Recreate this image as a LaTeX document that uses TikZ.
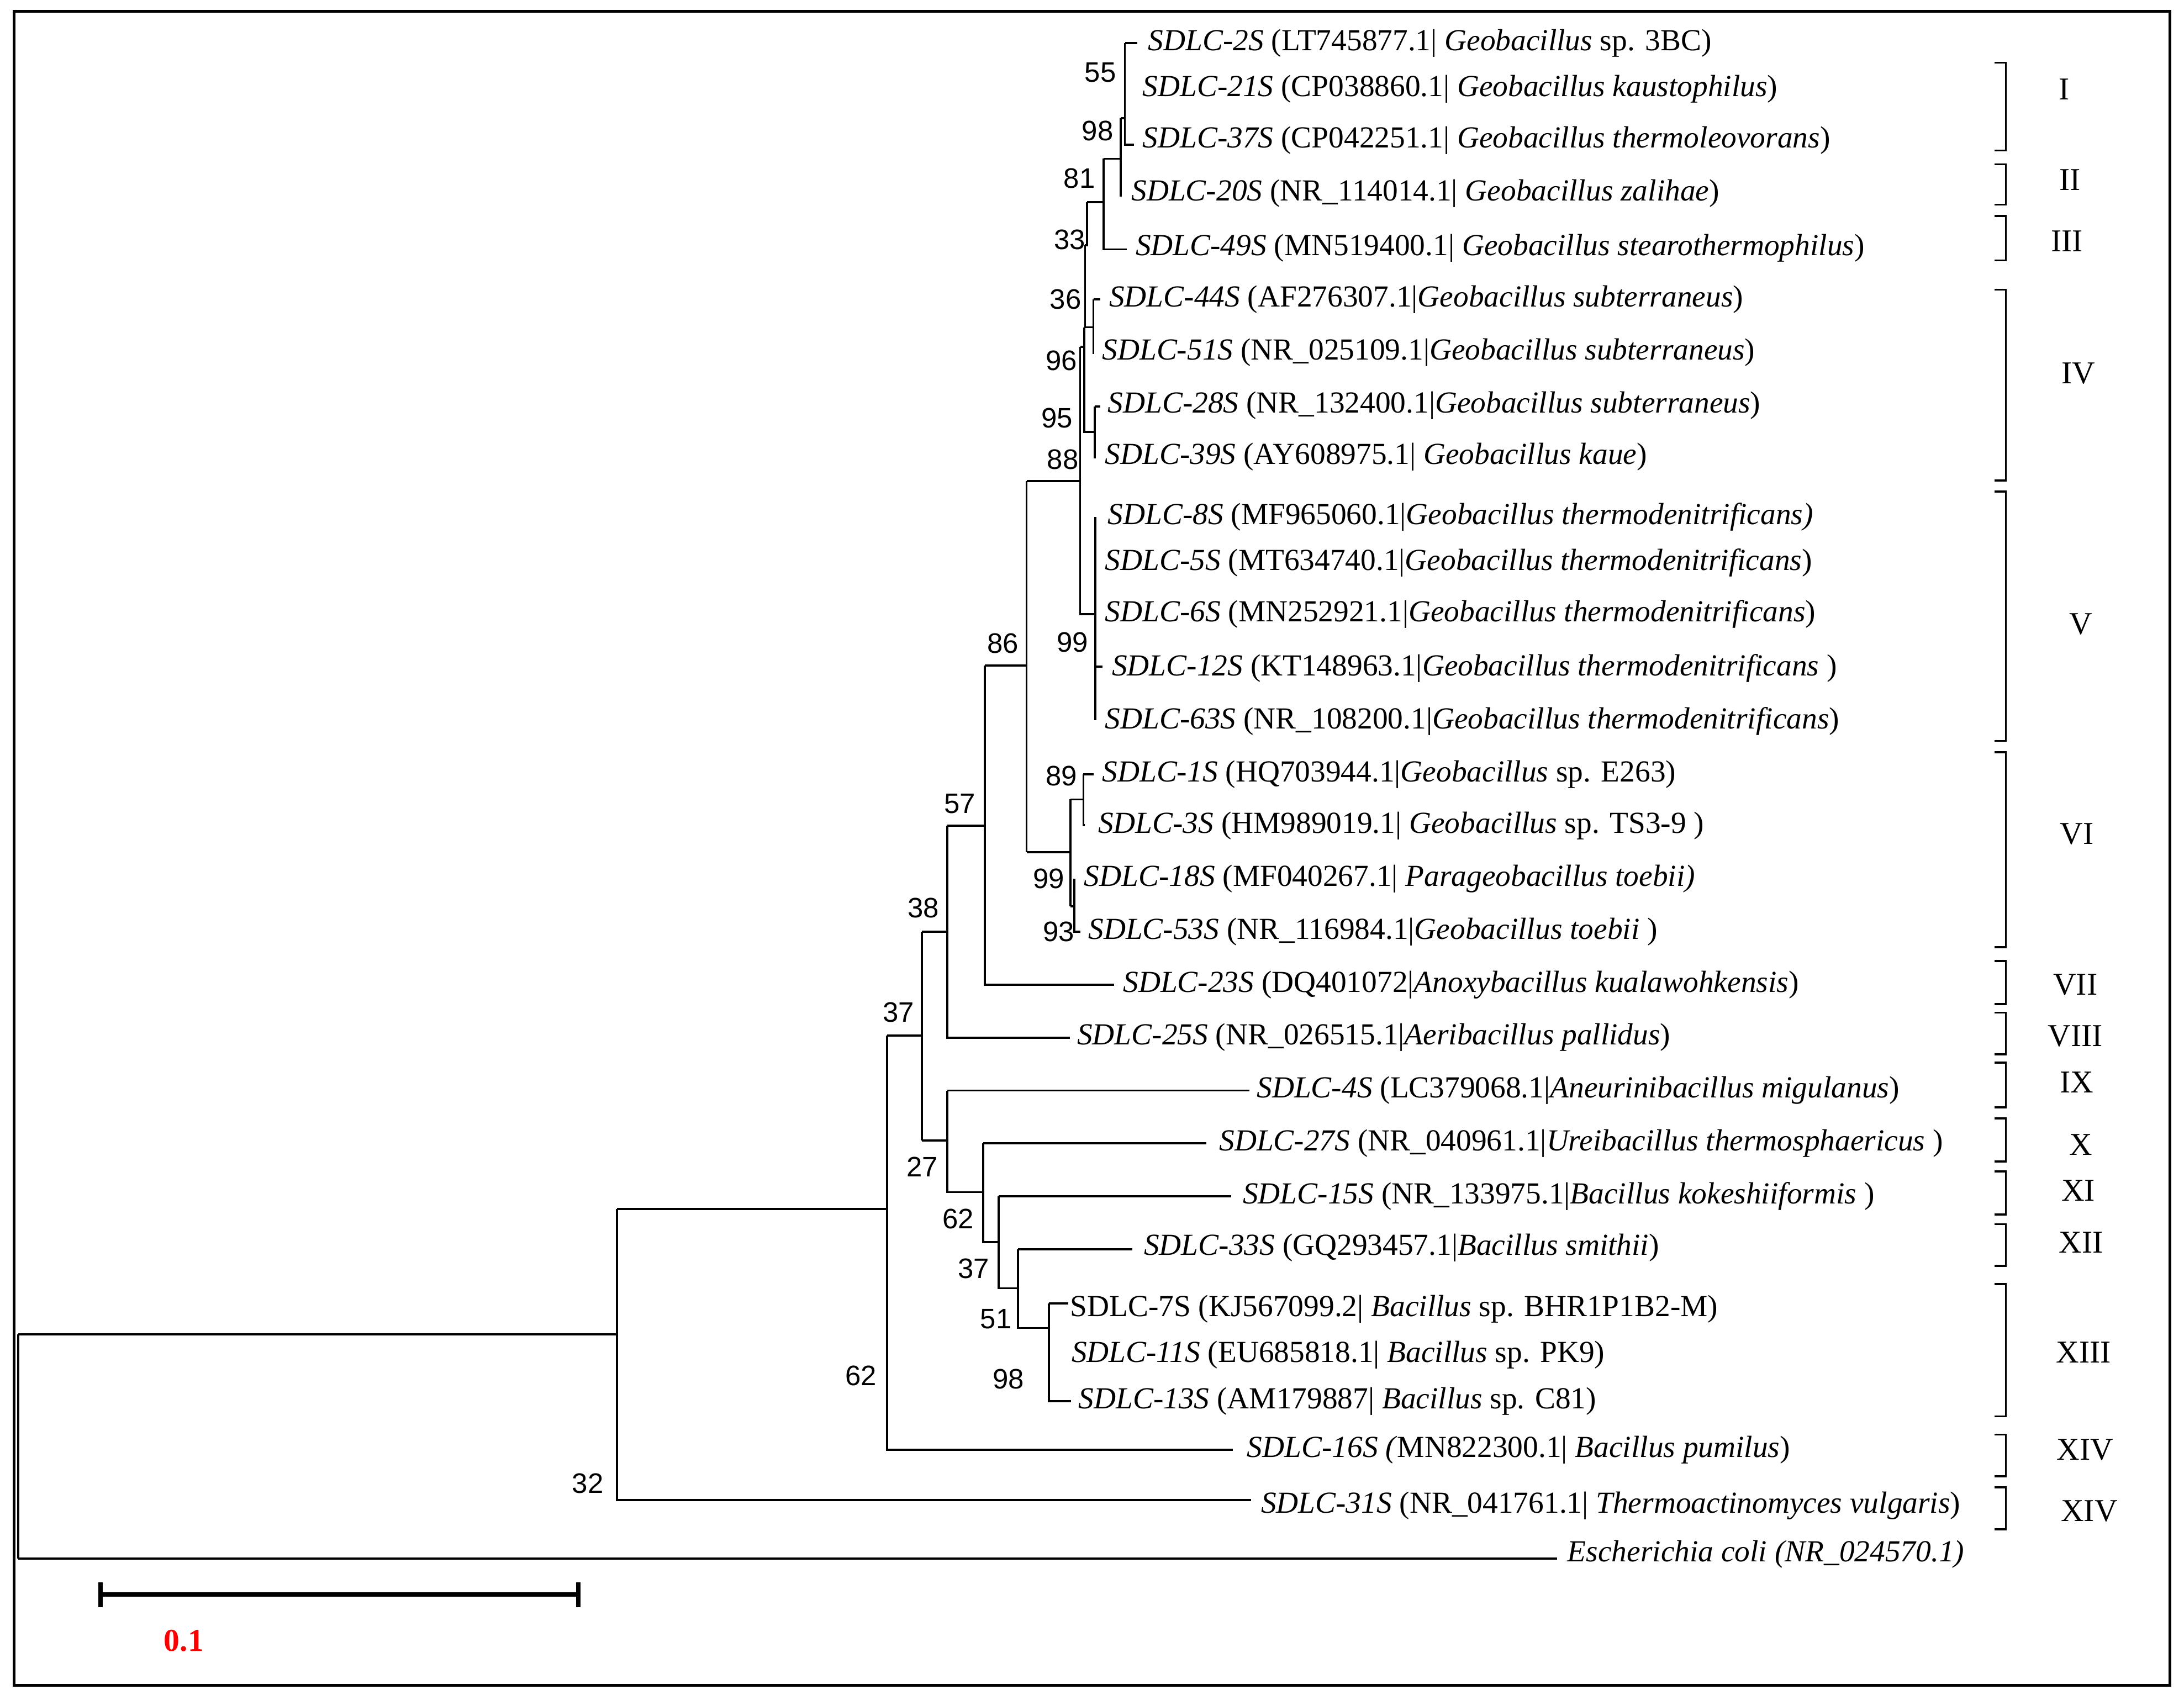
\documentclass[tikz,border=0pt]{standalone}
\usepackage{fontspec}
\setmainfont{Liberation Serif}
\newfontfamily\numfont{Liberation Sans}
\begin{document}
\begin{tikzpicture}[x=0.02cm,y=-0.02cm,
  leaf/.style={anchor=west,inner sep=0pt,font=\fontsize{12.5}{14}\selectfont},
  bs/.style={inner sep=0pt,font=\numfont\fontsize{11.5}{13}\selectfont},
  clab/.style={inner sep=0pt,font=\fontsize{13}{15}\selectfont},
  br/.style={line width=0.8pt},
  tr/.style={line width=0.85pt}]
\useasboundingbox (0,0) rectangle (1568,1217);
\draw[line width=1.2pt] (10,8) rectangle (1558,1210);
% tree
\draw[tr] (13,1119) -- (1118,1119);
\draw[tr] (13,958) -- (13,1119);
\draw[tr] (13,958) -- (443,958);
\draw[tr] (443,868) -- (443,1077) -- (898,1077);
\draw[tr] (443,868) -- (637,868);
\draw[tr] (637,743.5) -- (637,1041) -- (885,1041);
\draw[tr] (637,743.5) -- (662,743.5);
\draw[tr] (662,669) -- (662,819);
\draw[tr] (662,669) -- (680,669);
\draw[tr] (680,593) -- (680,745) -- (768,745);
\draw[tr] (680,593) -- (707,593);
\draw[tr] (707,478) -- (707,707) -- (800,707);
\draw[tr] (707,478) -- (737,478);
\draw[tr] (737,345.5) -- (737,612);
\draw[tr] (737,345.5) -- (775.5,345.5);
\draw[tr] (737,612) -- (768.5,612);
% clade VI
\draw[tr] (768.5,574) -- (768.5,650.7);
\draw[tr] (768.5,574) -- (777.8,574);
\draw[tr] (777.8,556) -- (785,556);
\draw[tr] (777.8,556) -- (777.8,592.6) -- (779,592.6);
\draw[tr] (768.5,650.7) -- (771.2,650.7);
\draw[tr] (771.2,631) -- (771.2,669) -- (775.8,669);
% clade V
\draw[tr] (775.5,249) -- (775.5,441) -- (786.4,441);
\draw[tr] (786.4,371) -- (786.4,517);
\draw[tr] (786.4,478.6) -- (791.7,478.6);
% clade IV and above
\draw[tr] (775.5,249) -- (778.5,249);
\draw[tr] (778.5,235) -- (778.5,310) -- (786,310);
\draw[tr] (786,292) -- (786,329) ;
\draw[tr] (786,292) -- (790,292);
\draw[tr] (779,176) -- (779,235) -- (785,235);
\draw[tr] (785,215) -- (785,254);
\draw[tr] (785,215) -- (790,215);
\draw[tr] (780.5,145) -- (780.5,176) -- (779,176);
\draw[tr] (780.5,145) -- (792.4,145);
\draw[tr] (792.4,114) -- (792.4,179) -- (809,179);
\draw[tr] (792.4,114) -- (804.6,114);
\draw[tr] (804.6,85) -- (804.6,141);
\draw[tr] (804.6,85) -- (807.6,85);
\draw[tr] (807.6,31) -- (807.6,104) -- (814,104);
\draw[tr] (807.6,31) -- (816.6,31);
% lower clades
\draw[tr] (662,819) -- (680,819);
\draw[tr] (680,783) -- (680,856) -- (706,856);
\draw[tr] (680,783) -- (897,783);
\draw[tr] (706,821) -- (706,892) -- (717,892);
\draw[tr] (706,821) -- (866,821);
\draw[tr] (717,859) -- (717,925) -- (731,925);
\draw[tr] (717,859) -- (884,859);
\draw[tr] (731,897) -- (731,953.5) -- (753,953.5);
\draw[tr] (731,897) -- (813,897);
\draw[tr] (753,936) -- (753,1006) -- (769,1006);
\draw[tr] (753,936) -- (767,936);
% leaves
\node[leaf] (l2) at (824,31) {\textit{SDLC-2S} (LT745877.1| \textit{Geobacillus} sp. 3BC)};
\node[leaf] (l21) at (820,64) {\textit{SDLC-21S} (CP038860.1| \textit{Geobacillus kaustophilus})};
\node[leaf] (l37) at (820,101) {\textit{SDLC-37S} (CP042251.1| \textit{Geobacillus thermoleovorans})};
\node[leaf] (l20) at (812,139) {\textit{SDLC-20S} (NR\_114014.1| \textit{Geobacillus zalihae})};
\node[leaf] (l49) at (815,178) {\textit{SDLC-49S} (MN519400.1| \textit{Geobacillus stearothermophilus})};
\node[leaf] (l44) at (796,215) {\textit{SDLC-44S} (AF276307.1|\textit{Geobacillus subterraneus})};
\node[leaf] (l51) at (791,253) {\textit{SDLC-51S} (NR\_025109.1|\textit{Geobacillus subterraneus})};
\node[leaf] (l28) at (795,291) {\textit{SDLC-28S} (NR\_132400.1|\textit{Geobacillus subterraneus})};
\node[leaf] (l39) at (793,328) {\textit{SDLC-39S} (AY608975.1| \textit{Geobacillus kaue})};
\node[leaf] (l8) at (795,371) {\textit{SDLC-8S} (MF965060.1|\textit{Geobacillus thermodenitrificans)}};
\node[leaf] (l5) at (793,404) {\textit{SDLC-5S} (MT634740.1|\textit{Geobacillus thermodenitrificans})};
\node[leaf] (l6) at (793,441) {\textit{SDLC-6S} (MN252921.1|\textit{Geobacillus thermodenitrificans})};
\node[leaf] (l12) at (798,480) {\textit{SDLC-12S} (KT148963.1|\textit{Geobacillus thermodenitrificans} )};
\node[leaf] (l63) at (793,518) {\textit{SDLC-63S} (NR\_108200.1|\textit{Geobacillus thermodenitrificans})};
\node[leaf] (l1) at (791,556) {\textit{SDLC-1S} (HQ703944.1|\textit{Geobacillus} sp. E263)};
\node[leaf] (l3) at (788,593) {\textit{SDLC-3S} (HM989019.1| \textit{Geobacillus} sp. TS3-9 )};
\node[leaf] (l18) at (778,631) {\textit{SDLC-18S} (MF040267.1| \textit{Parageobacillus toebii)}};
\node[leaf] (l53) at (781,669) {\textit{SDLC-53S} (NR\_116984.1|\textit{Geobacillus toebii} )};
\node[leaf] (l23) at (806,707) {\textit{SDLC-23S} (DQ401072|\textit{Anoxybacillus kualawohkensis})};
\node[leaf] (l25) at (773,745) {\textit{SDLC-25S} (NR\_026515.1|\textit{Aeribacillus pallidus})};
\node[leaf] (l4) at (902,783) {\textit{SDLC-4S} (LC379068.1|\textit{Aneurinibacillus migulanus})};
\node[leaf] (l27) at (875,821) {\textit{SDLC-27S} (NR\_040961.1|\textit{Ureibacillus thermosphaericus} )};
\node[leaf] (l15) at (892,859) {\textit{SDLC-15S} (NR\_133975.1|\textit{Bacillus kokeshiiformis} )};
\node[leaf] (l33) at (821,896) {\textit{SDLC-33S} (GQ293457.1|\textit{Bacillus smithii})};
\node[leaf] (l7) at (768,940) {SDLC-7S (KJ567099.2| \textit{Bacillus} sp. BHR1P1B2-M)};
\node[leaf] (l11) at (769,973) {\textit{SDLC-11S} (EU685818.1| \textit{Bacillus} sp. PK9)};
\node[leaf] (l13) at (774,1006) {\textit{SDLC-13S} (AM179887| \textit{Bacillus} sp. C81)};
\node[leaf] (l16) at (895,1041) {\textit{SDLC-16S (}MN822300.1| \textit{Bacillus pumilus})};
\node[leaf] (l31) at (905,1081) {\textit{SDLC-31S} (NR\_041761.1| \textit{Thermoactinomyces vulgaris})};
\node[leaf] (lec) at (1125,1116) {\textit{Escherichia coli (NR\_024570.1)}};
% bootstrap
\foreach \v/\x/\y/\n in {55/790/52/b1,98/788/94/b2,81/775/128/b3,33/768/172/b4,36/765/215/b5,96/762/259/b6,95/759/300/b7,88/763/330/b8,99/770/461/b9,86/720/462/b10,89/762/557/b11,99/753/631/b12,93/760/669/b13,57/689/577/b14,38/663/652/b15,37/645/727/b16,27/662/838/b17,62/688/875/b18,37/699/911/b19,51/715/947/b20,98/724/990/b21,62/618/988/b22,32/422/1065/b23}
  \node[bs] (\n) at (\x,\y) {\v};
% brackets
\foreach \a/\b/\ly/\lab/\lx/\n in {45/108/64/I/1482/c1,118/147/129/II/1486/c2,155/187/173/III/1484/c3,208/345/268/IV/1492/c4,353/532/448/V/1494/c5,540/680/599/VI/1491/c6,690/721/707/VII/1490/c7,727/757/744/VIII/1490/c8,763/795/777/IX/1491/c9,803/834/822/X/1494/c10,841/872/855/XI/1492/c11,879/909/892/XII/1494/c12,922/1017/971/XIII/1496/c13,1030/1060/1041/XIV/1497/c14,1068/1098/1085/XIV/1500/c15}
{
  \draw[br] (1432,\a) -- (1440,\a) -- (1440,\b) -- (1432,\b);
  \node[clab] (\n) at (\lx,\ly) {\lab};
}
% scale bar
\draw[line width=1.8pt] (72,1145) -- (415,1145);
\draw[line width=1.8pt] (72,1136) -- (72,1154);
\draw[line width=1.8pt] (415,1136) -- (415,1154);
\node[inner sep=0pt,text=red,font=\bfseries\fontsize{13}{15}\selectfont] (sb) at (132,1178) {0.1};
\end{tikzpicture}
\end{document}
